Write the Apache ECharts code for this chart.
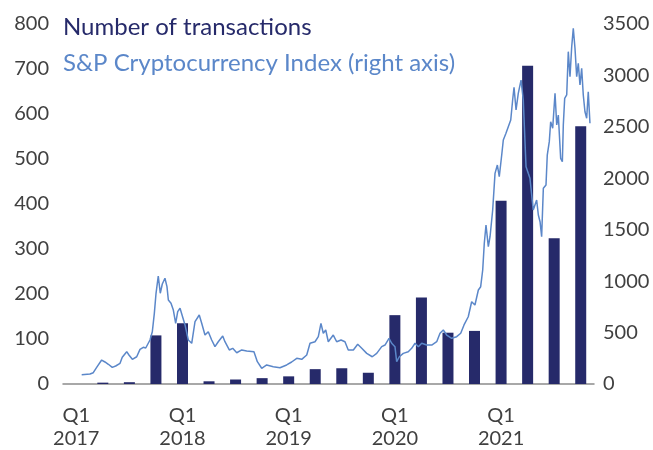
<!DOCTYPE html>
<html>
<head>
<meta charset="utf-8">
<script src="https://cdn.jsdelivr.net/npm/echarts@6/dist/echarts.min.js"></script>
<style>
  html, body { margin: 0; padding: 0; background: #fff; }
  #chart { width: 653px; height: 450px; }
</style>
</head>
<body>
<div id="chart"></div>
<script>
// quarterly transaction counts (left axis)
const quarters = [
  'Q1 2017', 'Q2 2017', 'Q3 2017', 'Q4 2017',
  'Q1 2018', 'Q2 2018', 'Q3 2018', 'Q4 2018',
  'Q1 2019', 'Q2 2019', 'Q3 2019', 'Q4 2019',
  'Q1 2020', 'Q2 2020', 'Q3 2020', 'Q4 2020',
  'Q1 2021', 'Q2 2021', 'Q3 2021', 'Q4 2021'
]
const transactions = [0, 3, 4, 108, 135, 6, 10, 13, 17, 33, 35, 25, 153, 192, 114, 118, 407, 707, 324, 573]

// S&P Cryptocurrency Index (right axis), time in decimal years
const indexTime = [
  2017.176, 2017.254, 2017.285, 2017.317, 2017.364, 2017.395, 2017.427, 2017.464, 2017.496, 2017.537,
  2017.558, 2017.600, 2017.621, 2017.653, 2017.694, 2017.725, 2017.756, 2017.779, 2017.819, 2017.841,
  2017.860, 2017.876, 2017.897, 2017.916, 2017.935, 2017.960, 2017.979, 2017.992, 2018.017, 2018.039,
  2018.061, 2018.080, 2018.102, 2018.118, 2018.149, 2018.180, 2018.212, 2018.243, 2018.283, 2018.306,
  2018.337, 2018.368, 2018.400, 2018.431, 2018.462, 2018.504, 2018.525, 2018.566, 2018.598, 2018.636,
  2018.683, 2018.730, 2018.798, 2018.830, 2018.871, 2018.918, 2018.980, 2019.043, 2019.106, 2019.153,
  2019.201, 2019.248, 2019.295, 2019.326, 2019.373, 2019.404, 2019.429, 2019.451, 2019.474, 2019.498,
  2019.545, 2019.577, 2019.618, 2019.655, 2019.686, 2019.734, 2019.775, 2019.813, 2019.860, 2019.912,
  2019.954, 2020.001, 2020.032, 2020.070, 2020.095, 2020.126, 2020.142, 2020.167, 2020.204, 2020.251,
  2020.283, 2020.315, 2020.346, 2020.378, 2020.425, 2020.472, 2020.519, 2020.550, 2020.581, 2020.613,
  2020.660, 2020.707, 2020.745, 2020.776, 2020.816, 2020.848, 2020.879, 2020.911, 2020.933, 2020.952,
  2020.967, 2020.983, 2021.005, 2021.021, 2021.046, 2021.068, 2021.090, 2021.108, 2021.131, 2021.146,
  2021.171, 2021.193, 2021.216, 2021.234, 2021.247, 2021.266, 2021.287, 2021.313, 2021.334, 2021.360,
  2021.381, 2021.397, 2021.428, 2021.460, 2021.476, 2021.492, 2021.507, 2021.523, 2021.548, 2021.560,
  2021.579, 2021.592, 2021.611, 2021.633, 2021.649, 2021.664, 2021.686, 2021.702, 2021.711, 2021.724,
  2021.743, 2021.758, 2021.774, 2021.790, 2021.805, 2021.821, 2021.837, 2021.852, 2021.868, 2021.884,
  2021.899, 2021.915, 2021.931, 2021.946, 2021.962
]
const indexValue = [
  90, 97, 110, 162, 233, 214, 192, 162, 175, 201,
  260, 314, 282, 240, 265, 337, 357, 350, 428, 508,
  687, 882, 1050, 882, 972, 1028, 946, 817, 785, 719,
  590, 703, 736, 720, 574, 428, 396, 606, 671, 590,
  476, 508, 428, 363, 411, 467, 411, 331, 347, 304,
  331, 321, 314, 217, 153, 185, 168, 158, 185, 214,
  250, 240, 282, 396, 411, 460, 590, 493, 525, 411,
  476, 411, 428, 411, 331, 331, 386, 347, 298, 265,
  298, 363, 379, 444, 396, 363, 217, 265, 298, 314,
  347, 396, 363, 396, 379, 379, 411, 493, 525, 476,
  444, 460, 493, 574, 654, 800, 768, 914, 946, 1108,
  1368, 1546, 1335, 1432, 1692, 2048, 2129, 2015, 2226, 2372,
  2437, 2502, 2567, 2761, 2885, 2664, 2826, 2955, 2761, 2113,
  2048, 2000, 1692, 1789, 1643, 1578, 1432, 1903, 1935, 2226,
  2356, 2550, 2486, 2826, 2518, 2615, 2194, 2161, 2518, 2777,
  2810, 3231, 2988, 3279, 3458, 3264, 2988, 3118, 2907, 3069,
  2810, 2647, 2583, 2842, 2535
]

const navy = '#262a6a'
const lightBlue = '#5b87c9'
const labelColor = '#404040'
const fontFamily = 'Lato'

const chart = echarts.init(document.getElementById('chart'))

const option = {
  animation: false,
  textStyle: { fontFamily: fontFamily },
  legend: {
    orient: 'vertical',
    left: 53,
    top: 10,
    icon: 'none',
    itemWidth: 0,
    itemGap: 12,
    selectedMode: false,
    textStyle: { fontSize: 24, fontFamily: fontFamily },
    data: [
      { name: 'Number of transactions', textStyle: { color: navy } },
      { name: 'S&P Cryptocurrency Index (right axis)', textStyle: { color: lightBlue } }
    ]
  },
  grid: { left: 63, right: 59, top: 24, bottom: 66 },
  xAxis: [
    {
      type: 'category',
      data: quarters,
      boundaryGap: true,
      axisLine: { lineStyle: { color: '#8c8c8c', width: 1.5 } },
      axisTick: { show: false },
      axisLabel: {
        interval: 3,
        margin: 20,
        fontSize: 20,
        lineHeight: 23,
        color: labelColor,
        formatter: v => v.replace(' ', '\n')
      }
    },
    {
      type: 'value',
      min: 2017,
      max: 2022,
      show: false
    }
  ],
  yAxis: [
    {
      type: 'value',
      min: 0,
      max: 800,
      interval: 100,
      splitLine: { show: false },
      axisLine: { show: false },
      axisTick: { show: false },
      axisLabel: { fontSize: 20, color: labelColor, margin: 14 }
    },
    {
      type: 'value',
      min: 0,
      max: 3500,
      interval: 500,
      position: 'right',
      splitLine: { show: false },
      axisLine: { show: false },
      axisTick: { show: false },
      axisLabel: { fontSize: 20, color: labelColor, margin: 9, formatter: v => String(v) }
    }
  ],
  series: [
    {
      name: 'Number of transactions',
      type: 'bar',
      xAxisIndex: 0,
      yAxisIndex: 0,
      barWidth: 11,
      itemStyle: { color: navy },
      data: transactions,
      z: 2
    },
    {
      name: 'S&P Cryptocurrency Index (right axis)',
      type: 'line',
      xAxisIndex: 1,
      yAxisIndex: 1,
      showSymbol: false,
      lineStyle: { color: lightBlue, width: 1.5 },
      itemStyle: { color: lightBlue },
      data: indexTime.map((t, i) => [t, indexValue[i]]),
      z: 3
    }
  ]
}

chart.setOption(option)
</script>
</body>
</html>
